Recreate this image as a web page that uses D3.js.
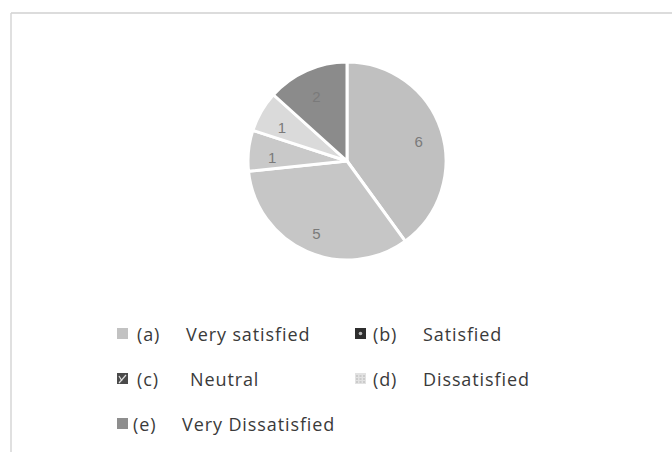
<!DOCTYPE html>
<html>
<head>
<meta charset="utf-8">
<script src="https://cdn.jsdelivr.net/npm/d3@7"></script>
<style>
  html, body { margin: 0; padding: 0; background: #fff; }
  svg { display: block; }
</style>
</head>
<body>
<svg id="chart" width="672" height="452"></svg>
<script>
// Survey responses: satisfaction levels
const codes = ["(a)", "(b)", "(c)", "(d)", "(e)"];
const categories = ["Very satisfied", "Satisfied", "Neutral", "Dissatisfied", "Very Dissatisfied"];
const counts = [6, 5, 1, 1, 2];
const sliceColors = ["#c0c0c0", "#c6c6c6", "#c9c9c9", "#dadada", "#8b8b8b"];
const swatchColors = ["#c2c2c2", "#2e2e2e", "#4a4a4a", "#e2e2e2", "#8e8e8e"];

const svg = d3.select("#chart");

// frame lines
svg.append("line").attr("x1", 11).attr("y1", 13).attr("x2", 672).attr("y2", 13)
  .attr("stroke", "#d0d0d0").attr("stroke-width", 1.5);
svg.append("line").attr("x1", 11).attr("y1", 13).attr("x2", 11).attr("y2", 452)
  .attr("stroke", "#d6d6d6").attr("stroke-width", 1.5);

// pie
const cx = 347, cy = 161, r = 99;
const data = codes.map((c, i) => ({ code: c, name: categories[i], value: counts[i], color: sliceColors[i] }));
const pie = d3.pie().value(d => d.value).sort(null);
const arcs = pie(data);
const arc = d3.arc().innerRadius(0).outerRadius(r);
const labelArc = d3.arc().innerRadius(r * 0.76).outerRadius(r * 0.76);

const g = svg.append("g").attr("transform", `translate(${cx},${cy})`);
g.selectAll("path.slice").data(arcs).join("path")
  .attr("class", "slice")
  .attr("d", arc)
  .attr("fill", d => d.data.color)
  .attr("stroke", "#fff")
  .attr("stroke-width", 3)
  .attr("stroke-linejoin", "round");

g.selectAll("text.val").data(arcs).join("text")
  .attr("class", "val")
  .attr("transform", d => { const [x, y] = labelArc.centroid(d); return `translate(${x},${y + 4})`; })
  .attr("text-anchor", "middle")
  .attr("dominant-baseline", "central")
  .attr("font-family", "'Liberation Sans', 'DejaVu Sans', sans-serif")
  .attr("font-size", 15)
  .attr("fill", "#7a7a7a")
  .text(d => d.data.value);

// legend: two columns, three rows
const colX = [117, 355];
const rowBase = [341, 386, 431];
const codeOffset = [20, 18, 20, 18, 16];
const nameOffset = [69, 68, 73, 68, 65];
const font = "'Open Sans', 'Noto Sans', sans-serif";
const legend = svg.append("g");
data.forEach((d, i) => {
  const x = colX[i % 2], y = rowBase[Math.floor(i / 2)];
  const item = legend.append("g").attr("transform", `translate(${x},${y})`);
  item.append("rect").attr("x", 0).attr("y", -13).attr("width", 11).attr("height", 11)
    .attr("fill", swatchColors[i]);
  if (i === 1) {
    item.append("circle").attr("cx", 5.5).attr("cy", -7.5).attr("r", 1.8).attr("fill", "#bbb");
  } else if (i === 2) {
    item.append("path").attr("d", "M2,-3 L9,-11 M2,-10 L5,-5").attr("stroke", "#ddd").attr("stroke-width", 1.2).attr("fill", "none");
  } else if (i === 3) {
    item.append("path").attr("d", "M1,-10 H10 M1,-7 H10 M1,-4 H10").attr("stroke", "#aaa").attr("stroke-width", 0.8)
      .attr("stroke-dasharray", "2,1.5").attr("fill", "none");
  }
  item.append("text").attr("x", codeOffset[i]).attr("y", 0)
    .attr("font-family", font).attr("font-size", 18).attr("letter-spacing", 0.9)
    .attr("fill", "#3a3a3a")
    .text(d.code);
  item.append("text").attr("x", nameOffset[i]).attr("y", 0)
    .attr("font-family", font).attr("font-size", 18).attr("letter-spacing", 0.9)
    .attr("fill", "#3a3a3a")
    .text(d.name);
});
</script>
</body>
</html>
